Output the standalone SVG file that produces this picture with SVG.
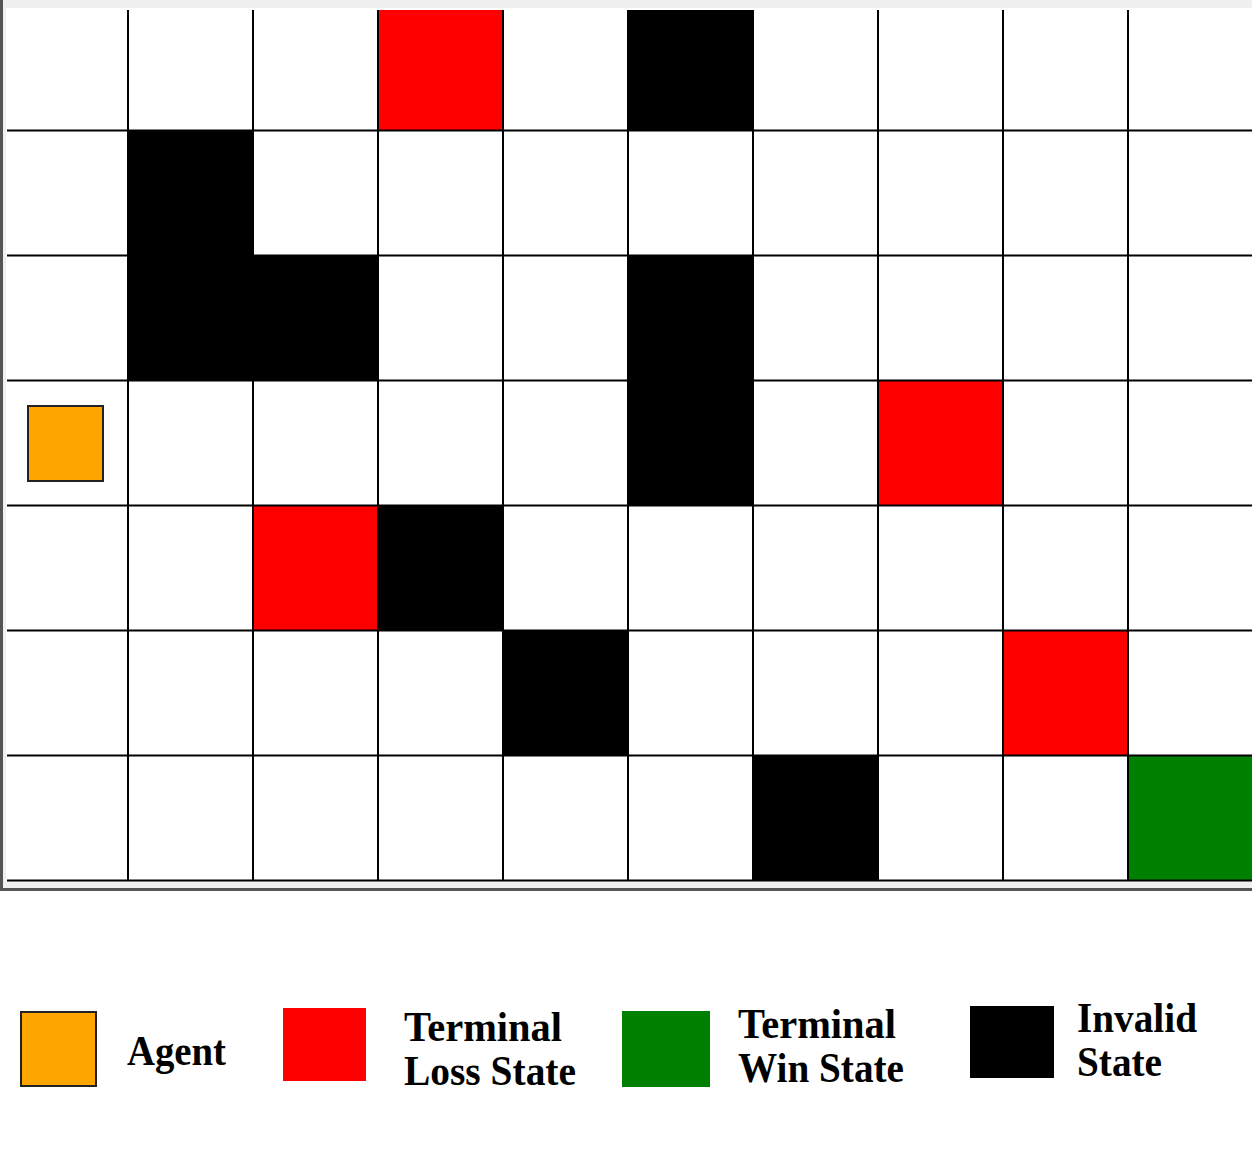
<svg xmlns="http://www.w3.org/2000/svg" width="1256" height="1153" viewBox="0 0 1256 1153">
<style>
.grid line{stroke:#000;stroke-width:2}
.red{fill:#FF0000}
.blk{fill:#000}
.grn{fill:#008000}
.agent{fill:#FFA500;stroke:#222;stroke-width:2}
.lbl{font-family:"Liberation Serif","Times New Roman",serif;font-weight:bold;font-size:42px;fill:#000}
</style>
<rect width="1256" height="1153" fill="#fff"/>
<g id="frame">
<rect x="0" y="0" width="1252" height="8" fill="#f0f0f0"/>
<rect x="0" y="881" width="1252" height="8" fill="#f0f0f0"/>
<rect x="2" y="0" width="4" height="890" fill="#f0f0f0"/>
<rect x="0" y="0" width="3" height="891" fill="#555"/>
<rect x="0" y="888" width="1252" height="3" fill="#555"/>
</g>
<g id="cells">
<rect class="red" x="378" y="10" width="125" height="120"/>
<rect class="blk" x="628" y="10" width="125" height="120"/>
<rect class="blk" x="128" y="130" width="125" height="125"/>
<rect class="blk" x="128" y="255" width="250" height="125"/>
<rect class="blk" x="628" y="255" width="125" height="250"/>
<rect class="red" x="878" y="380" width="125" height="125"/>
<rect class="red" x="253" y="505" width="125" height="125"/>
<rect class="blk" x="378" y="505" width="125" height="125"/>
<rect class="blk" x="503" y="630" width="125" height="125"/>
<rect class="red" x="1003" y="630" width="125" height="125"/>
<rect class="blk" x="753" y="755" width="125" height="125"/>
<rect class="grn" x="1128" y="755" width="124" height="125"/>
</g>
<g class="grid" id="gridlines">
<line x1="128" y1="10" x2="128" y2="881"/>
<line x1="253" y1="10" x2="253" y2="881"/>
<line x1="378" y1="10" x2="378" y2="881"/>
<line x1="503" y1="10" x2="503" y2="881"/>
<line x1="628" y1="10" x2="628" y2="881"/>
<line x1="753" y1="10" x2="753" y2="881"/>
<line x1="878" y1="10" x2="878" y2="881"/>
<line x1="1003" y1="10" x2="1003" y2="881"/>
<line x1="1128" y1="10" x2="1128" y2="881"/>
<line x1="7" y1="130.5" x2="1252" y2="130.5"/>
<line x1="7" y1="255.5" x2="1252" y2="255.5"/>
<line x1="7" y1="380.5" x2="1252" y2="380.5"/>
<line x1="7" y1="505.5" x2="1252" y2="505.5"/>
<line x1="7" y1="630.5" x2="1252" y2="630.5"/>
<line x1="7" y1="755.5" x2="1252" y2="755.5"/>
<line x1="7" y1="880.5" x2="1252" y2="880.5"/>
</g>
<g id="agent">
<rect class="agent" x="28" y="406" width="75" height="75"/>
</g>
<g id="legend-agent">
<rect class="agent" x="21" y="1012" width="75" height="74"/>
<text class="lbl" x="127" y="1065" textLength="99" lengthAdjust="spacingAndGlyphs">Agent</text>
</g>
<g id="legend-loss">
<rect class="red" x="283" y="1008" width="83" height="73"/>
<text class="lbl" x="404" y="1041" textLength="158" lengthAdjust="spacingAndGlyphs">Terminal</text>
<text class="lbl" x="404" y="1085" textLength="172" lengthAdjust="spacingAndGlyphs">Loss State</text>
</g>
<g id="legend-win">
<rect class="grn" x="622" y="1011" width="88" height="76"/>
<text class="lbl" x="738" y="1038" textLength="158" lengthAdjust="spacingAndGlyphs">Terminal</text>
<text class="lbl" x="738" y="1082" textLength="166" lengthAdjust="spacingAndGlyphs">Win State</text>
</g>
<g id="legend-invalid">
<rect class="blk" x="970" y="1006" width="84" height="72"/>
<text class="lbl" x="1077" y="1032" textLength="120" lengthAdjust="spacingAndGlyphs">Invalid</text>
<text class="lbl" x="1077" y="1076" textLength="85" lengthAdjust="spacingAndGlyphs">State</text>
</g>
</svg>
